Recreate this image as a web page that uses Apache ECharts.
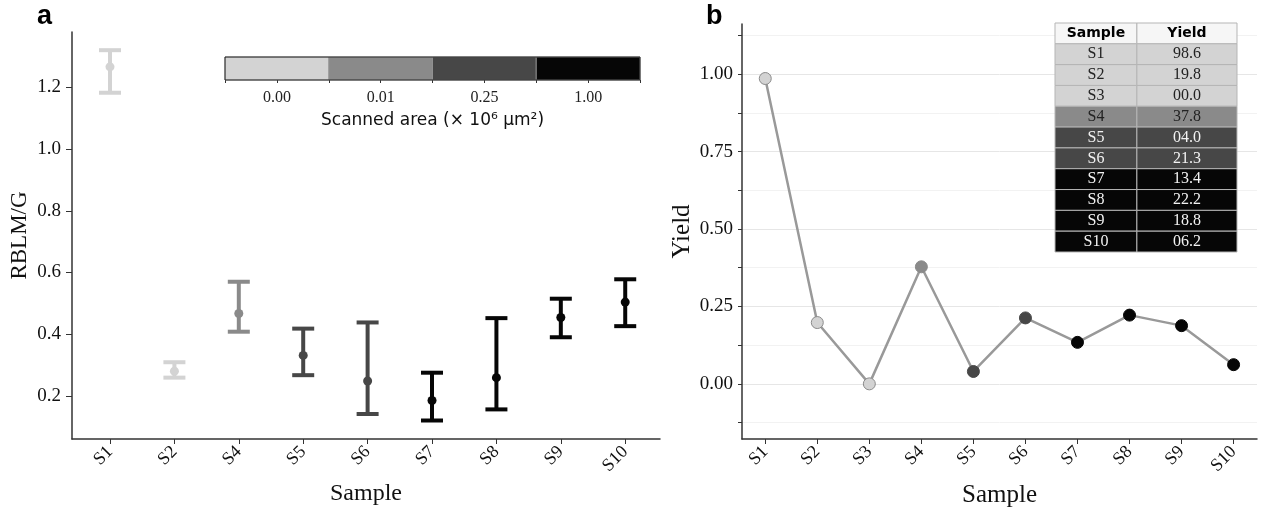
<!DOCTYPE html>
<html>
<head>
<meta charset="utf-8">
<script src="https://cdn.jsdelivr.net/npm/echarts@6/dist/echarts.min.js"></script>
<style>
  html, body { margin: 0; padding: 0; background: #fff; }
  #chart { width: 1267px; height: 512px; }
</style>
</head>
<body>
<div id="chart"></div>
<script>
// panel a data
const samplesA = ['S1', 'S2', 'S4', 'S5', 'S6', 'S7', 'S8', 'S9', 'S10'];
const rblmMean = [1.267, 0.280, 0.467, 0.331, 0.248, 0.185, 0.259, 0.454, 0.504];
const rblmLow = [1.183, 0.259, 0.408, 0.267, 0.141, 0.120, 0.156, 0.390, 0.426];
const rblmHigh = [1.321, 0.309, 0.570, 0.418, 0.438, 0.275, 0.452, 0.515, 0.578];
const areaGroupA = [0, 0, 1, 2, 2, 3, 3, 3, 3];
const ticksA = [0.2, 0.4, 0.6, 0.8, 1.0, 1.2];

// scanned area classes
const areaLabels = ['0.00', '0.01', '0.25', '1.00'];

// panel b data
const samplesB = ['S1', 'S2', 'S3', 'S4', 'S5', 'S6', 'S7', 'S8', 'S9', 'S10'];
const yieldB = [0.986, 0.198, 0.000, 0.378, 0.040, 0.213, 0.134, 0.222, 0.188, 0.062];
const areaGroupB = [0, 0, 0, 1, 2, 2, 3, 3, 3, 3];
const ticksB = [0, 0.25, 0.5, 0.75, 1.0];
const minorTicksB = [-0.125, 0, 0.125, 0.25, 0.375, 0.5, 0.625, 0.75, 0.875, 1.0, 1.125];
const tableHeader = ['Sample', 'Yield'];

// styles
const areaColors = ['#d3d3d3', '#8a8a8a', '#474747', '#060606'];
const tableText = ['#222', '#222', '#f2f2f2', '#f2f2f2'];
const serif = '"Liberation Serif", "DejaVu Serif", serif';
const sans = '"DejaVu Sans", sans-serif';
const axisLine = { show: true, onZero: false, lineStyle: { color: '#333', width: 1.5 } };

let chart = echarts.init(document.getElementById('chart'));

const errData = samplesA.map((s, i) => [i, rblmMean[i], rblmLow[i], rblmHigh[i], areaGroupA[i]]);
const barData = areaLabels.map((l, i) => [i, i]);
const tableRows = ['header'].concat(samplesB);
const cellData = [];
tableRows.forEach((r, ri) => { cellData.push([0, ri]); cellData.push([1, ri]); });
const colEdges = [0, 0.45, 1];

function yieldText(v) {
    return (v * 100).toFixed(1).padStart(4, '0');
}

chart.setOption({
    animation: false,
    textStyle: { fontFamily: serif },
    graphic: [
        { type: 'text', left: 37, top: 3, style: { text: 'a', font: 'bold 27px "Liberation Sans", Arial', fill: '#000' } },
        { type: 'text', left: 706, top: 3, style: { text: 'b', font: 'bold 27px "Liberation Sans", Arial', fill: '#000' } }
    ],
    grid: [
        { left: 72, top: 32, width: 588, height: 407, outerBoundsMode: 'none' },
        { left: 225, top: 57, width: 415, height: 23, outerBoundsMode: 'none', show: true, borderColor: '#222', borderWidth: 1, backgroundColor: 'transparent', z: 10 },
        { left: 742, top: 24, width: 515, height: 415, outerBoundsMode: 'none' },
        { left: 1055, top: 23, width: 182, height: 229, outerBoundsMode: 'none' }
    ],
    xAxis: [
        {
            gridIndex: 0, type: 'value', min: -0.59, max: 8.54,
            name: 'Sample', nameLocation: 'middle', nameGap: 38,
            nameTextStyle: { fontSize: 24, color: '#111', fontFamily: serif },
            axisLine: axisLine,
            axisTick: { show: true, length: 5, customValues: samplesA.map((s, i) => i), lineStyle: { color: '#333' } },
            axisLabel: {
                customValues: samplesA.map((s, i) => i), rotate: 45, margin: 10,
                fontSize: 18, color: '#111', fontFamily: serif,
                formatter: v => samplesA[v]
            },
            splitLine: { show: false }
        },
        {
            gridIndex: 1, type: 'value', min: 0, max: 4,
            name: 'Scanned area (× 10⁶ µm²)', nameLocation: 'middle', nameGap: 32,
            nameTextStyle: { fontSize: 17, color: '#111', fontFamily: sans },
            axisLine: { show: false },
            axisTick: { show: true, length: 3, customValues: [0, 0.5, 1, 1.5, 2, 2.5, 3, 3.5, 4], lineStyle: { color: '#333' } },
            axisLabel: {
                customValues: [0.5, 1.5, 2.5, 3.5], margin: 10,
                fontSize: 16, color: '#222', fontFamily: serif,
                formatter: v => areaLabels[Math.floor(v)]
            },
            splitLine: { show: false }
        },
        {
            gridIndex: 2, type: 'value', min: -0.447, max: 9.45,
            name: 'Sample', nameLocation: 'middle', nameGap: 44,
            nameTextStyle: { fontSize: 25, color: '#111', fontFamily: serif },
            axisLine: axisLine,
            axisTick: { show: true, length: 5, customValues: samplesB.map((s, i) => i), lineStyle: { color: '#333' } },
            axisLabel: {
                customValues: samplesB.map((s, i) => i), rotate: 45, margin: 10,
                fontSize: 18, color: '#111', fontFamily: serif,
                formatter: v => samplesB[v]
            },
            splitLine: { show: false }
        },
        { gridIndex: 3, type: 'value', min: 0, max: 1, show: false }
    ],
    yAxis: [
        {
            gridIndex: 0, type: 'value', min: 0.06, max: 1.38,
            name: 'RBLM/G', nameLocation: 'middle', nameGap: 41,
            nameTextStyle: { fontSize: 23, color: '#111', fontFamily: serif },
            axisLine: axisLine,
            axisTick: { show: true, length: 6, customValues: ticksA, lineStyle: { color: '#333' } },
            axisLabel: {
                customValues: ticksA, margin: 11, fontSize: 19, color: '#111', fontFamily: serif,
                formatter: v => v.toFixed(1)
            },
            splitLine: { show: false }
        },
        { gridIndex: 1, type: 'value', min: 0, max: 1, show: false },
        {
            gridIndex: 2, type: 'value', min: -0.178, max: 1.162,
            name: 'Yield', nameLocation: 'middle', nameGap: 47,
            nameTextStyle: { fontSize: 25, color: '#111', fontFamily: serif },
            axisLine: axisLine,
            axisTick: { show: true, length: 4, customValues: minorTicksB, lineStyle: { color: '#333' } },
            axisLabel: {
                customValues: ticksB, margin: 9, fontSize: 19, color: '#111', fontFamily: serif,
                formatter: v => v.toFixed(2)
            },
            splitLine: { show: true, lineStyle: { color: ['#f2f2f2', '#e6e6e6'], width: 1 } }
        },
        { gridIndex: 3, type: 'category', data: tableRows, inverse: true, show: false }
    ],
    series: [
        {
            // error bars, panel a
            type: 'custom', xAxisIndex: 0, yAxisIndex: 0,
            data: errData,
            renderItem: function(params, api) {
                const x = api.value(0);
                const mid = api.coord([x, api.value(1)]);
                const lo = api.coord([x, api.value(2)]);
                const hi = api.coord([x, api.value(3)]);
                const color = areaColors[api.value(4)];
                const hw = 11;
                const st = { stroke: color, lineWidth: 4 };
                return {
                    type: 'group',
                    children: [
                        { type: 'line', shape: { x1: hi[0], y1: hi[1], x2: lo[0], y2: lo[1] }, style: st },
                        { type: 'line', shape: { x1: hi[0] - hw, y1: hi[1], x2: hi[0] + hw, y2: hi[1] }, style: st },
                        { type: 'line', shape: { x1: lo[0] - hw, y1: lo[1], x2: lo[0] + hw, y2: lo[1] }, style: st },
                        { type: 'circle', shape: { cx: mid[0], cy: mid[1], r: 4.5 }, style: { fill: color } }
                    ]
                };
            }
        },
        {
            // colour bar
            type: 'custom', xAxisIndex: 1, yAxisIndex: 1,
            data: barData,
            renderItem: function(params, api) {
                const i = api.value(0);
                const p0 = api.coord([i, 1]);
                const p1 = api.coord([i + 1, 0]);
                return {
                    type: 'rect',
                    shape: { x: p0[0], y: p0[1], width: p1[0] - p0[0], height: p1[1] - p0[1] },
                    style: { fill: areaColors[api.value(1)], stroke: '#999', lineWidth: 0.8 }
                };
            }
        },
        {
            // yield line, panel b
            type: 'line', xAxisIndex: 2, yAxisIndex: 2,
            symbol: 'circle', symbolSize: 12,
            lineStyle: { color: '#999', width: 2.5 },
            data: yieldB.map((v, i) => ({
                value: [i, v],
                itemStyle: {
                    color: areaColors[areaGroupB[i]],
                    borderColor: areaGroupB[i] === 0 ? '#8a8a8a' : areaColors[areaGroupB[i]],
                    borderWidth: 1
                }
            }))
        },
        {
            // yield table
            type: 'custom', xAxisIndex: 3, yAxisIndex: 3,
            data: cellData,
            renderItem: function(params, api) {
                const c = api.value(0);
                const r = api.value(1);
                const x0 = api.coord([colEdges[c], r])[0];
                const x1 = api.coord([colEdges[c + 1], r])[0];
                const cy = api.coord([0, r])[1];
                const h = api.size([0, 1])[1];
                let fill, txt, color, font;
                if (r === 0) {
                    fill = '#f6f6f6';
                    txt = tableHeader[c];
                    color = '#000';
                    font = 'bold 14px "DejaVu Sans"';
                } else {
                    const g = areaGroupB[r - 1];
                    fill = areaColors[g];
                    txt = c === 0 ? samplesB[r - 1] : yieldText(yieldB[r - 1]);
                    color = tableText[g];
                    font = '16px ' + serif;
                }
                return {
                    type: 'group',
                    children: [
                        { type: 'rect', shape: { x: x0, y: cy - h / 2, width: x1 - x0, height: h }, style: { fill: fill, stroke: '#b5b5b5', lineWidth: 1 } },
                        { type: 'text', style: { x: (x0 + x1) / 2, y: cy, text: txt, align: 'center', verticalAlign: 'middle', fill: color, font: font } }
                    ]
                };
            }
        }
    ]
});
</script>
</body>
</html>
